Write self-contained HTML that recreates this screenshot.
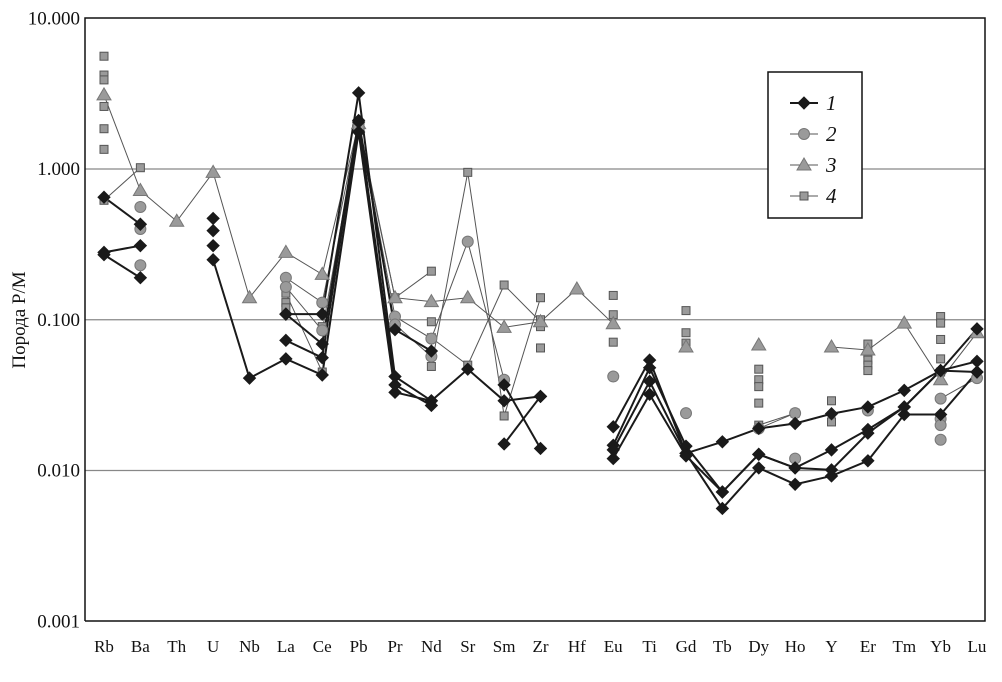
<!DOCTYPE html>
<html><head><meta charset="utf-8"><style>
html,body{margin:0;padding:0;background:#fff;}
svg{display:block;font-family:"Liberation Serif","DejaVu Serif",serif;}
</style></head><body>
<svg id="chart" width="1002" height="682" viewBox="0 0 1002 682" xmlns="http://www.w3.org/2000/svg">
<g id="grid"></g>
<g id="axes"></g>
<g id="lines"></g>
<g id="marks"></g>
<text x="0" y="0" transform="translate(25,320) rotate(-90)" text-anchor="middle" font-size="19" fill="#111">Порода Р/М</text>
<g>
<rect x="768" y="72" width="94" height="146" fill="#fff" stroke="#111" stroke-width="1.5"/>
<g id="legend"></g>
</g>
</svg>
<script>
const categories=["Rb","Ba","Th","U","Nb","La","Ce","Pb","Pr","Nd","Sr","Sm","Zr","Hf","Eu","Ti","Gd","Tb","Dy","Ho","Y","Er","Tm","Yb","Lu"];
const yTicks=[10,1,0.1,0.01,0.001];
const yTickLabels=["10.000","1.000","0.100","0.010","0.001"];
// series 1 (black diamonds) lines
const s1Lines=[
[["Rb",0.65],["Ba",0.43]],
[["Rb",0.28],["Ba",0.31]],
[["Rb",0.27],["Ba",0.19]],
[["U",0.25],["Nb",0.041],["La",0.055],["Ce",0.043],["Pb",1.76],["Pr",0.033],["Nd",0.029],["Sr",0.047],["Sm",0.029],["Zr",0.031]],
[["La",0.109],["Ce",0.109],["Pb",3.2],["Pr",0.042],["Nd",0.029]],
[["La",0.109],["Ce",0.069],["Pb",2.1],["Pr",0.086],["Nd",0.062]],
[["La",0.073],["Ce",0.056],["Pb",2.05],["Pr",0.037],["Nd",0.027]],
[["Sm",0.037],["Zr",0.014]],
[["Sm",0.015],["Zr",0.031]],
[["Eu",0.0195],["Ti",0.054],["Gd",0.013],["Tb",0.0155],["Dy",0.019],["Ho",0.0205],["Y",0.0238],["Er",0.0264],["Tm",0.034],["Yb",0.046],["Lu",0.053]],
[["Eu",0.0147],["Ti",0.048],["Gd",0.0145],["Tb",0.0072],["Dy",0.0128],["Ho",0.0104],["Y",0.0137],["Er",0.0187],["Tm",0.0264],["Yb",0.046],["Lu",0.087]],
[["Eu",0.0137],["Ti",0.039],["Gd",0.013],["Tb",0.0056],["Dy",0.0104],["Ho",0.0081],["Y",0.0092],["Er",0.0116],["Tm",0.0235],["Yb",0.0235],["Lu",0.045]],
[["Eu",0.012],["Ti",0.032],["Gd",0.0125],["Tb",0.0072],["Dy",0.0128],["Ho",0.0104],["Y",0.0101],["Er",0.0177],["Tm",0.0264],["Yb",0.046],["Lu",0.045]]
];
const s1Points=[["U",0.47],["U",0.39],["U",0.31]];
// series 2 (circles)
const s2Lines=[
[["La",0.19],["Ce",0.13],["Pb",2.0],["Pr",0.105],["Nd",0.075],["Sr",0.33],["Sm",0.04]],
[["La",0.165],["Ce",0.085],["Pb",1.9],["Pr",0.093],["Nd",0.057]],
[["Dy",0.019],["Ho",0.024]],
[["Yb",0.03],["Lu",0.041]]
];
const s2Points=[["Ba",0.56],["Ba",0.40],["Ba",0.23],["Eu",0.042],["Gd",0.024],["Ho",0.012],["Er",0.025],["Yb",0.022],["Yb",0.02],["Yb",0.016]];
// series 3 (triangles)
const s3Lines=[
[["Rb",3.1],["Ba",0.72],["Th",0.45],["U",0.95],["Nb",0.14],["La",0.28],["Ce",0.2],["Pb",2.0],["Pr",0.14],["Nd",0.132],["Sr",0.14],["Sm",0.089],["Zr",0.097],["Hf",0.16],["Eu",0.094]],
[["Y",0.066],["Er",0.063],["Tm",0.095],["Yb",0.04],["Lu",0.082]]
];
const s3Points=[["Dy",0.068],["Gd",0.066]];
// series 4 (squares)
const s4Lines=[
[["Rb",0.62],["Ba",1.02]],
[["La",0.15],["Ce",0.045],["Pb",1.9],["Pr",0.14],["Nd",0.21]],
[["Nd",0.049],["Sr",0.95],["Sm",0.023],["Zr",0.14]],
[["Nd",0.076],["Sr",0.05],["Sm",0.17],["Zr",0.097]],
[["Dy",0.02],["Ho",0.024]]
];
const s4Points=[["Rb",5.6],["Rb",4.2],["Rb",3.9],["Rb",2.6],["Rb",1.85],["Rb",1.35],["La",0.13],["La",0.12],["Ce",0.09],["Nd",0.097],["Zr",0.1],["Zr",0.09],["Zr",0.065],["Eu",0.145],["Eu",0.108],["Eu",0.071],["Gd",0.115],["Gd",0.082],["Gd",0.07],["Dy",0.047],["Dy",0.04],["Dy",0.036],["Dy",0.028],["Y",0.029],["Y",0.021],["Er",0.069],["Er",0.06],["Er",0.054],["Er",0.05],["Er",0.046],["Yb",0.105],["Yb",0.095],["Yb",0.074],["Yb",0.055],["Yb",0.045]];
const legendLabels=["1","2","3","4"];

const NS="http://www.w3.org/2000/svg";
const X0=104,DX=36.375,Y1=169,DEC=150.75,LEFT=85,RIGHT=985,TOP=18,BOT=621;
function xOf(c){return X0+categories.indexOf(c)*DX;}
function yOf(v){return Y1-Math.log10(v)*DEC;}
function mk(tag,attrs,parent){const e=document.createElementNS(NS,tag);for(const k in attrs)e.setAttribute(k,attrs[k]);parent.appendChild(e);return e;}
const grid=document.getElementById('grid'),axes=document.getElementById('axes'),lines=document.getElementById('lines'),marks=document.getElementById('marks'),legend=document.getElementById('legend');

yTicks.forEach((t,i)=>{
  const y=yOf(t);
  if(t<10&&t>0.001){const l=mk('line',{x1:LEFT,x2:RIGHT,y1:y,y2:y,stroke:'#888','stroke-width':1.3},grid);
    
    }
  const tx=mk('text',{x:80,y:y+6,'text-anchor':'end','font-size':19,fill:'#111'},axes);
  tx.textContent=yTickLabels[i];
  
  
});
const frame=mk('path',{d:`M${LEFT},${BOT}V${TOP}H${RIGHT}V${BOT}H${LEFT}`,fill:'none',stroke:'#111','stroke-width':1.5},axes);


categories.forEach(c=>{
  const tx=mk('text',{x:xOf(c),y:652,'text-anchor':'middle','font-size':17,fill:'#111'},axes);
  tx.textContent=c;
  
  
});

function marker(type,x,y,parent){
  let e;
  if(type===1)e=mk('polygon',{points:`${x},${y-6} ${x+6},${y} ${x},${y+6} ${x-6},${y}`,fill:'#1a1a1a',stroke:'#1a1a1a','stroke-width':1},parent);
  else if(type===2)e=mk('circle',{cx:x,cy:y,r:5.5,fill:'#9a9a9a',stroke:'#777','stroke-width':1},parent);
  else if(type===3)e=mk('polygon',{points:`${x},${y-7} ${x+7},${y+5} ${x-7},${y+5}`,fill:'#9a9a9a',stroke:'#777','stroke-width':1},parent);
  else e=mk('rect',{x:x-4,y:y-4,width:8,height:8,fill:'#9a9a9a',stroke:'#555','stroke-width':1},parent);
  return e;
}
const styles={1:{s:'#1a1a1a',w:2},2:{s:'#555',w:1},3:{s:'#555',w:1},4:{s:'#555',w:1}};
function drawSeries(type,ls,ps){
  ls.forEach(line=>{
    const pl=mk('polyline',{points:line.map(p=>xOf(p[0])+','+yOf(p[1])).join(' '),fill:'none',stroke:styles[type].s,'stroke-width':styles[type].w},lines);
    
    
  });
  ls.flat().concat(ps).forEach(p=>{
    const m=marker(type,xOf(p[0]),yOf(p[1]),marks);
    
    
  });
}
drawSeries(4,s4Lines,s4Points);
drawSeries(3,s3Lines,s3Points);
drawSeries(2,s2Lines,s2Points);
drawSeries(1,s1Lines,s1Points);

legendLabels.forEach((lab,i)=>{
  const y=103+i*31;
  const type=i+1;
  const l=mk('line',{x1:790,x2:818,y1:y,y2:y,stroke:styles[type].s,'stroke-width':styles[type].w},legend);
  
  
  const m=marker(type,804,y,legend);
  
  
  const t=mk('text',{x:826,y:y+7,'font-size':21,'font-style':'italic',fill:'#111'},legend);
  t.textContent=lab;
  
  
});
</script>
</body></html>
